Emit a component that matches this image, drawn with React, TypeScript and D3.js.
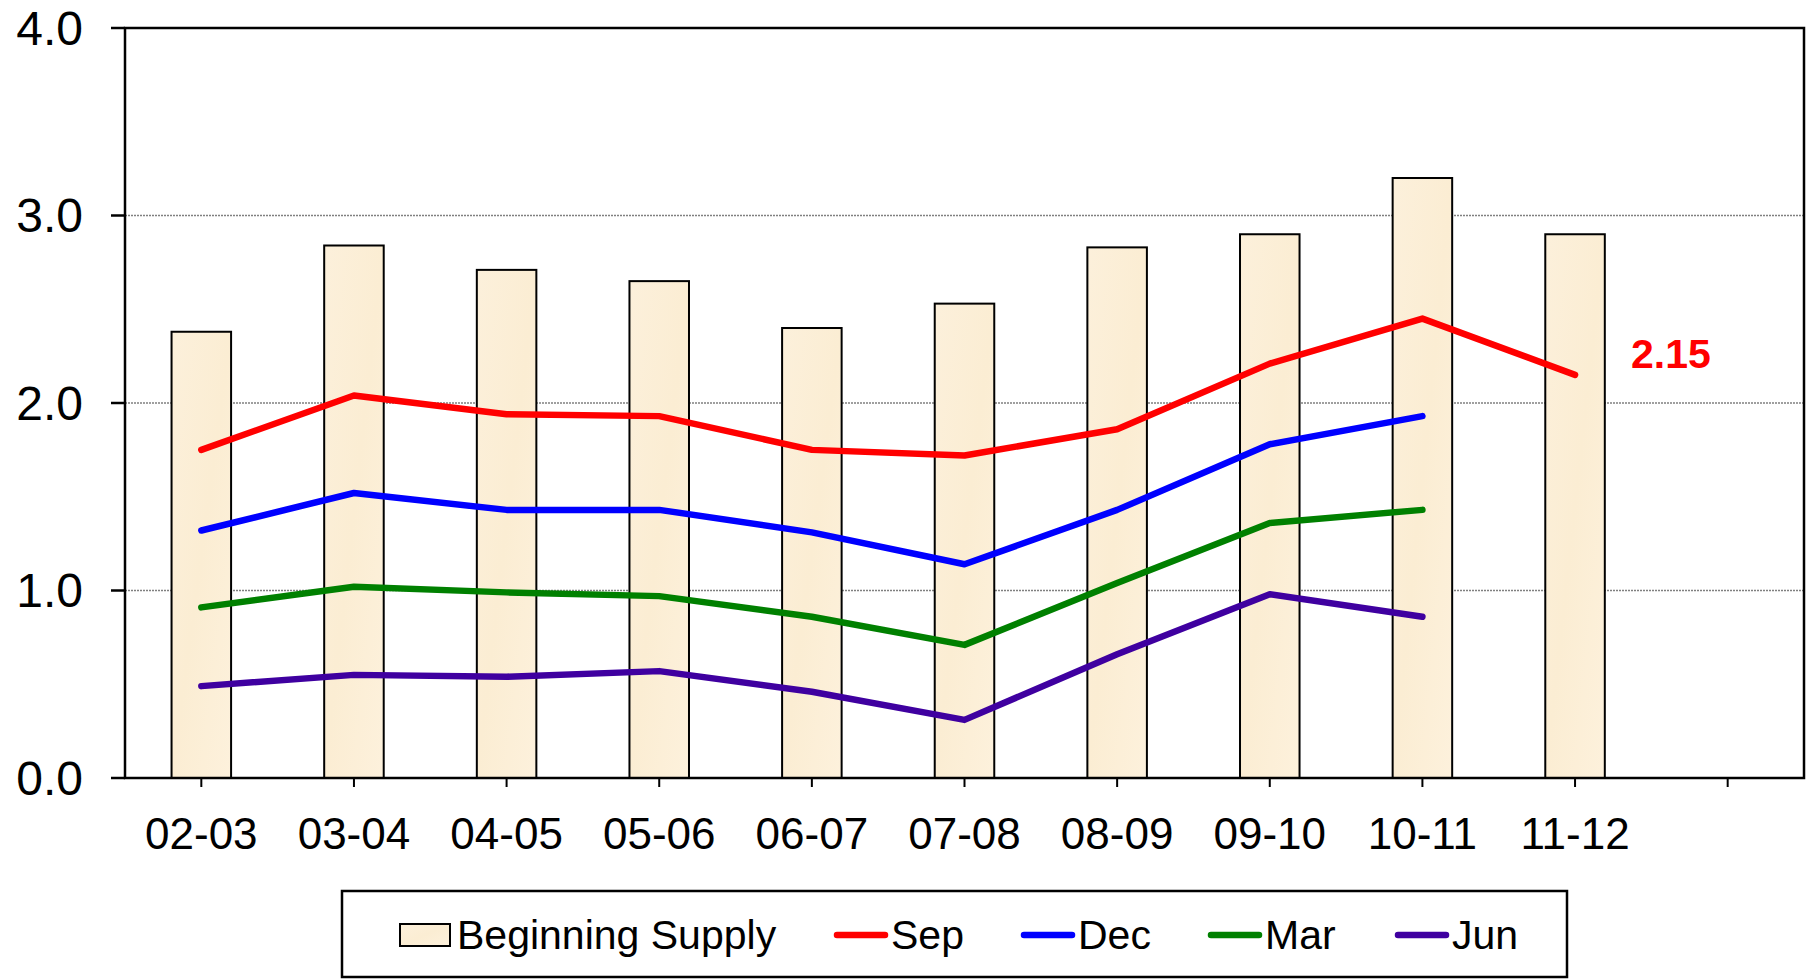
import React, { useEffect, useRef } from 'react';
import * as d3 from 'd3';

const categories = ['02-03', '03-04', '04-05', '05-06', '06-07', '07-08', '08-09', '09-10', '10-11', '11-12', ''];
const supply = [2.38, 2.84, 2.71, 2.65, 2.4, 2.53, 2.83, 2.9, 3.2, 2.9];
const sep = [1.75, 2.04, 1.94, 1.93, 1.75, 1.72, 1.86, 2.21, 2.45, 2.15];
const dec = [1.32, 1.52, 1.43, 1.43, 1.31, 1.14, 1.43, 1.78, 1.93];
const mar = [0.91, 1.02, 0.99, 0.97, 0.86, 0.71, 1.04, 1.36, 1.43];
const jun = [0.49, 0.55, 0.54, 0.57, 0.46, 0.31, 0.66, 0.98, 0.86];
const yTicks = [0, 1, 2, 3, 4];

const series = [
  { name: 'Sep', values: sep, color: '#ff0000' },
  { name: 'Dec', values: dec, color: '#0000ff' },
  { name: 'Mar', values: mar, color: '#008000' },
  { name: 'Jun', values: jun, color: '#3f00a0' },
];

const FONT = '"Liberation Sans", Arial, sans-serif';

const App = () => {
  const ref = useRef<SVGSVGElement>(null);

  useEffect(() => {
    const W = 1816;
    const H = 980;
    const margin = { top: 28, right: 12, bottom: 202, left: 125 };
    const width = W - margin.left - margin.right;
    const height = H - margin.top - margin.bottom;

    const root = d3.select(ref.current);
    root.selectAll('*').remove();

    const defs = root.append('defs');
    const grad = defs.append('linearGradient').attr('id', 'paper').attr('x1', 0).attr('y1', 0).attr('x2', 1).attr('y2', 1);
    grad.append('stop').attr('offset', '0%').attr('stop-color', '#fcf0db');
    grad.append('stop').attr('offset', '50%').attr('stop-color', '#fbedd3');
    grad.append('stop').attr('offset', '100%').attr('stop-color', '#fdf1dc');

    const svg = root.append('g').attr('transform', `translate(${margin.left},${margin.top})`);

    const x = d3.scaleBand().domain(categories.map((c, i) => String(i))).range([0, width]).paddingInner(0).paddingOuter(0);
    const y = d3.scaleLinear().domain([0, 4]).range([height, 0]);
    const cx = (i: number) => (x(String(i)) as number) + x.bandwidth() / 2;
    const barW = x.bandwidth() * 0.39;

    // rejilla
    svg.selectAll('.grid')
      .data(yTicks.filter(t => t > 0 && t < 4))
      .enter().append('line')
      .attr('x1', 0).attr('x2', width)
      .attr('y1', d => y(d)).attr('y2', d => y(d))
      .attr('stroke', '#808080').attr('stroke-width', 1.3).attr('stroke-dasharray', '2,1');

    // barras
    svg.selectAll('.bar')
      .data(supply)
      .enter().append('rect')
      .attr('x', (d, i) => cx(i) - barW / 2)
      .attr('y', d => y(d))
      .attr('width', barW)
      .attr('height', d => height - y(d))
      .attr('fill', 'url(#paper)')
      .attr('stroke', '#000').attr('stroke-width', 2);

    // lineas
    const line = d3.line<number>().x((d, i) => cx(i)).y(d => y(d));
    series.forEach(s => {
      svg.append('path')
        .datum(s.values)
        .attr('d', line)
        .attr('fill', 'none')
        .attr('stroke', s.color)
        .attr('stroke-width', 6.5)
        .attr('stroke-linejoin', 'round')
        .attr('stroke-linecap', 'round');
    });

    // etiqueta del ultimo valor
    const last = sep.length - 1;
    svg.append('text')
      .attr('x', cx(last) + 56)
      .attr('y', y(sep[last]) - 18)
      .attr('dominant-baseline', 'middle')
      .style('font-family', FONT).style('font-weight', 'bold').style('font-size', '41px')
      .attr('fill', '#ff0000')
      .text(sep[last].toFixed(2));

    // marco
    svg.append('rect')
      .attr('x', 0).attr('y', 0).attr('width', width).attr('height', height)
      .attr('fill', 'none').attr('stroke', '#000').attr('stroke-width', 2.5);

    // eje y
    const yAxis = svg.append('g');
    yTicks.forEach(t => {
      yAxis.append('line').attr('x1', -14).attr('x2', 0).attr('y1', y(t)).attr('y2', y(t))
        .attr('stroke', '#000').attr('stroke-width', 2.5);
      yAxis.append('text')
        .attr('x', -42).attr('y', y(t))
        .attr('text-anchor', 'end').attr('dominant-baseline', 'central')
        .style('font-family', FONT).style('font-size', '48px')
        .text(t.toFixed(1));
    });

    // eje x
    const xAxis = svg.append('g').attr('transform', `translate(0,${height})`);
    categories.forEach((c, i) => {
      xAxis.append('line').attr('x1', cx(i)).attr('x2', cx(i)).attr('y1', 0).attr('y2', 9)
        .attr('stroke', '#000').attr('stroke-width', 2);
      xAxis.append('text')
        .attr('x', cx(i)).attr('y', 55)
        .attr('text-anchor', 'middle').attr('dominant-baseline', 'central')
        .style('font-family', FONT).style('font-size', '44px')
        .text(c);
    });

    // leyenda
    const leg = root.append('g');
    leg.append('rect').attr('x', 342).attr('y', 891).attr('width', 1225).attr('height', 86)
      .attr('fill', '#fff').attr('stroke', '#000').attr('stroke-width', 2.5);
    const ly = 935;
    const items = [
      { name: 'Beginning Supply', color: null as string | null, x0: 400 },
      ...series.map((s, i) => ({ name: s.name, color: s.color as string | null, x0: [834, 1021, 1208, 1395][i] })),
    ];
    items.forEach(it => {
      if (it.color === null) {
        leg.append('rect').attr('x', it.x0).attr('y', ly - 11).attr('width', 50).attr('height', 22)
          .attr('fill', 'url(#paper)').attr('stroke', '#000').attr('stroke-width', 2);
      } else {
        leg.append('line').attr('x1', it.x0 + 3).attr('x2', it.x0 + 51).attr('y1', ly).attr('y2', ly)
          .attr('stroke', it.color).attr('stroke-width', 6.5).attr('stroke-linecap', 'round');
      }
      leg.append('text')
        .attr('x', it.x0 + 57).attr('y', ly)
        .attr('dominant-baseline', 'central')
        .style('font-family', FONT).style('font-size', '41px')
        .text(it.name);
    });
  }, []);

  return (
    <svg ref={ref} width={1816} height={980} style={{ position: 'absolute', left: 0, top: 0, background: '#fff' }} />
  );
};

export default App;
